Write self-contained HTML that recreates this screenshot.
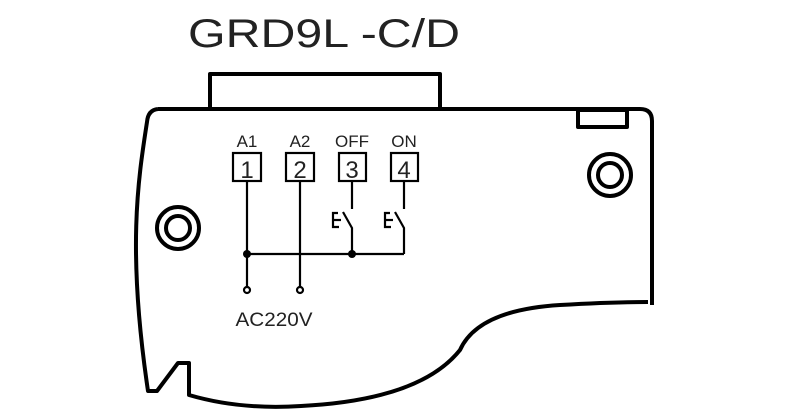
<!DOCTYPE html>
<html><head><meta charset="utf-8"><style>html,body{margin:0;padding:0;background:#fff;}svg{display:block}</style></head>
<body>
<svg width="800" height="419" viewBox="0 0 800 419" xmlns="http://www.w3.org/2000/svg">
<text x="188" y="47" font-family="Liberation Sans, sans-serif" font-size="40" fill="#222" textLength="272" lengthAdjust="spacingAndGlyphs">GRD9L -C/D</text>
<g fill="none" stroke="#000" stroke-width="4" stroke-linejoin="round">
<polyline points="210,109 210,74 440,74 440,109"/>
<path d="M158,109 L640,109 Q652,109 652,121 L652,305"/>
<path d="M158,109 Q148,110 147,122 C138,180 127,250 148,391 L157,391 L178,363 L189,363 L189,395 Q240,410 301,406 Q420,400 460,350 Q478,310 560,305 Q610,302 648,302"/>
<rect x="578" y="110" width="49" height="17"/>
<circle cx="610" cy="175" r="21"/>
<circle cx="610" cy="175" r="12"/>
<circle cx="178" cy="228" r="21"/>
<circle cx="178" cy="228" r="12"/>
</g>
<g font-family="Liberation Sans, sans-serif" fill="#222" font-size="17" text-anchor="middle">
<text x="247" y="147">A1</text>
<text x="300" y="147">A2</text>
<text x="352" y="147">OFF</text>
<text x="404" y="147">ON</text>
<text x="274" y="326" font-size="19" textLength="77" lengthAdjust="spacingAndGlyphs">AC220V</text>
<text x="247" y="178" font-size="24">1</text>
<text x="300" y="178" font-size="24">2</text>
<text x="352" y="178" font-size="24">3</text>
<text x="404" y="178" font-size="24">4</text>
</g>
<g fill="none" stroke="#000" stroke-width="2.2">
<rect x="233" y="153" width="28" height="28"/>
<rect x="286" y="153" width="28" height="28"/>
<rect x="339" y="153" width="27" height="28"/>
<rect x="391" y="153" width="27" height="28"/>
<line x1="247" y1="181" x2="247" y2="287"/>
<line x1="300" y1="181" x2="300" y2="287"/>
<line x1="247" y1="254" x2="404" y2="254"/>
<line x1="352" y1="181" x2="352" y2="209"/>
<polyline points="343,212 352,228 352,254"/>
<polyline points="338,213 333,213 333,227 339,227"/>
<line x1="333" y1="220" x2="341" y2="220"/>
<line x1="404" y1="181" x2="404" y2="209"/>
<polyline points="395,212 404,228 404,254"/>
<polyline points="390,213 385,213 385,227 391,227"/>
<line x1="385" y1="220" x2="393" y2="220"/>
<circle cx="247" cy="290" r="3"/>
<circle cx="300" cy="290" r="3"/>
</g>
<circle cx="247" cy="254" r="4" fill="#000"/>
<circle cx="352" cy="254" r="4" fill="#000"/>
</svg>
</body></html>
